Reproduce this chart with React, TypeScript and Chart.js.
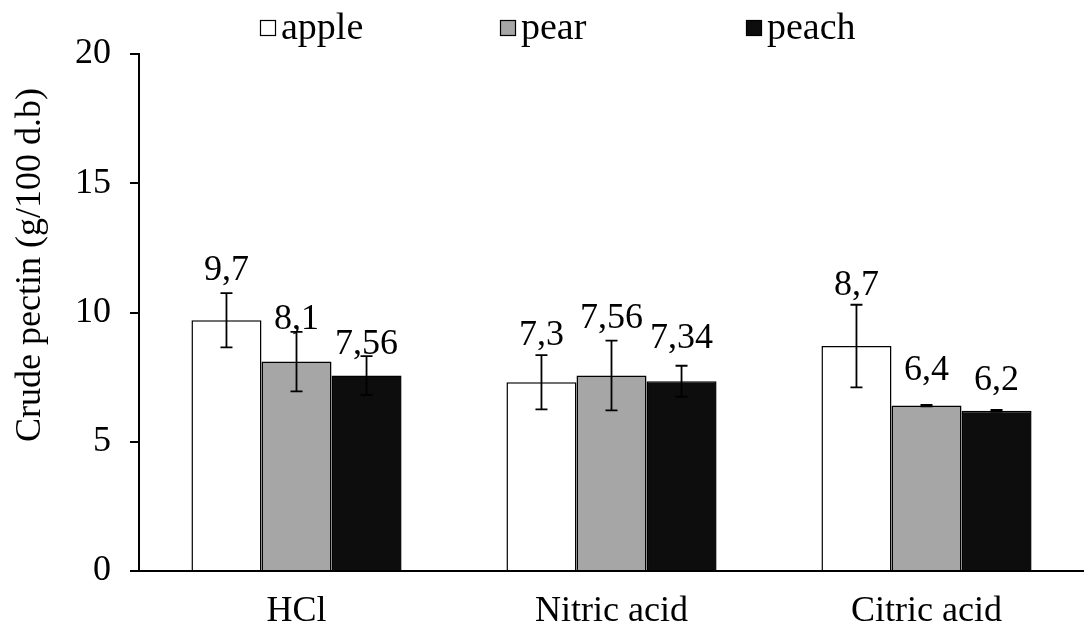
import React, { useEffect, useRef } from "react";
import { Chart, registerables } from "chart.js";
Chart.register(...registerables);

const categories = ["HCl", "Nitric acid", "Citric acid"];
const seriesNames = ["apple", "pear", "peach"];
const appleValues = [9.7, 7.3, 8.7];
const pearValues = [8.1, 7.56, 6.4];
const peachValues = [7.56, 7.34, 6.2];
const appleErrors = [1.05, 1.05, 1.6];
const pearErrors = [1.15, 1.35, 0.03];
const peachErrors = [0.75, 0.6, 0.03];
const yTicks = [0, 5, 10, 15, 20];
const yTitle = "Crude pectin (g/100 d.b)";

// styling (pixel lifts of the value labels above each bar top)
const LABEL_LIFT = [
  [52, 49, 63],
  [44, 59, 37],
  [33, 45, 32],
];
const FILLS = ["#ffffff", "#a6a6a6", "#0d0d0d"];
const FONT_FAMILY = "'Liberation Serif', 'Times New Roman', serif";
const FONT_SIZE = 36;
const LEGEND_FONT_SIZE = 38;
const LEGEND_X = [260, 500, 746];

const fmt = (v: number) => String(v).replace(".", ",");

const overlay = {
  id: "overlay",
  afterDatasetsDraw(chart: any) {
    const { ctx, scales } = chart;
    const y = scales.y;
    ctx.save();
    chart.data.datasets.forEach((ds: any, di: number) => {
      const meta = chart.getDatasetMeta(di);
      meta.data.forEach((bar: any, i: number) => {
        const v = ds.data[i];
        const e = ds.errors[i];
        const x = bar.x;
        const yt = y.getPixelForValue(v + e);
        const yb = y.getPixelForValue(v - e);
        ctx.strokeStyle = "#000";
        ctx.lineWidth = 1.8;
        ctx.beginPath();
        ctx.moveTo(x, yt);
        ctx.lineTo(x, yb);
        ctx.moveTo(x - 6, yt);
        ctx.lineTo(x + 6, yt);
        ctx.moveTo(x - 6, yb);
        ctx.lineTo(x + 6, yb);
        ctx.stroke();
        ctx.fillStyle = "#000";
        ctx.font = `${FONT_SIZE}px ${FONT_FAMILY}`;
        ctx.textAlign = "center";
        ctx.textBaseline = "middle";
        ctx.fillText(fmt(v), x, bar.y - LABEL_LIFT[di][i] + 2);
      });
    });
    ctx.restore();
  },
  afterDraw(chart: any) {
    const { ctx } = chart;
    ctx.save();
    ctx.font = `${FONT_SIZE}px ${FONT_FAMILY}`;
    ctx.fillStyle = "#000";
    // y title
    ctx.translate(31, 265);
    ctx.rotate(-Math.PI / 2);
    ctx.textAlign = "center";
    ctx.textBaseline = "middle";
    ctx.fillText(yTitle, 0, 0);
    ctx.restore();
    // legend
    ctx.save();
    ctx.font = `${LEGEND_FONT_SIZE}px ${FONT_FAMILY}`;
    chart.data.datasets.forEach((ds: any, di: number) => {
      const x0 = LEGEND_X[di];
      const cy = 28;
      ctx.fillStyle = ds.backgroundColor;
      ctx.fillRect(x0, cy - 8, 16, 16);
      ctx.strokeStyle = "#000";
      ctx.lineWidth = 1.2;
      ctx.strokeRect(x0 + 0.5, cy - 7.5, 15, 15);
      ctx.fillStyle = "#000";
      ctx.textAlign = "left";
      ctx.textBaseline = "middle";
      ctx.fillText(ds.label, x0 + 21, cy + 1);
    });
    ctx.restore();
  },
};

export default function App() {
  const ref = useRef<HTMLCanvasElement>(null);
  useEffect(() => {
    document.body.style.margin = "0";
    const font = { family: FONT_FAMILY, size: FONT_SIZE };
    const valuesList = [appleValues, pearValues, peachValues];
    const errorsList = [appleErrors, pearErrors, peachErrors];
    const chart = new Chart(ref.current!, {
      type: "bar",
      data: {
        labels: categories,
        datasets: seriesNames.map((name, i) => ({
          label: name,
          data: valuesList[i],
          errors: errorsList[i],
          backgroundColor: FILLS[i],
          borderColor: "#000",
          borderWidth: 1.5,
          categoryPercentage: 0.667,
          barPercentage: 1,
        })) as any,
      },
      options: {
        responsive: false,
        animation: false,
        layout: { padding: { top: 54, right: -4, left: 0, bottom: 0 } },
        plugins: { legend: { display: false }, tooltip: { enabled: false } },
        scales: {
          x: {
            grid: { display: false, drawTicks: false },
            border: { display: true, color: "#000", width: 2 },
            ticks: { font, color: "#000", padding: 19 },
            afterFit: (s: any) => {
              s.height = 60;
            },
          },
          y: {
            min: 0,
            max: 20,
            afterBuildTicks: (s: any) => {
              s.ticks = yTicks.map((v) => ({ value: v }));
            },
            ticks: { font, color: "#000", padding: 19 },
            grid: { drawOnChartArea: false, drawTicks: true, tickLength: 9, color: "#000", lineWidth: 2 },
            border: { display: true, color: "#000", width: 2 },
            afterFit: (s: any) => {
              s.width = 139;
            },
          },
        },
      } as any,
      plugins: [overlay],
    });
    return () => chart.destroy();
  }, []);
  return (
    <div style={{ position: "absolute", left: 0, top: 0, width: 1084, height: 631, background: "#fff" }}>
      <canvas ref={ref} width={1084} height={631} style={{ display: "block" }} />
    </div>
  );
}
